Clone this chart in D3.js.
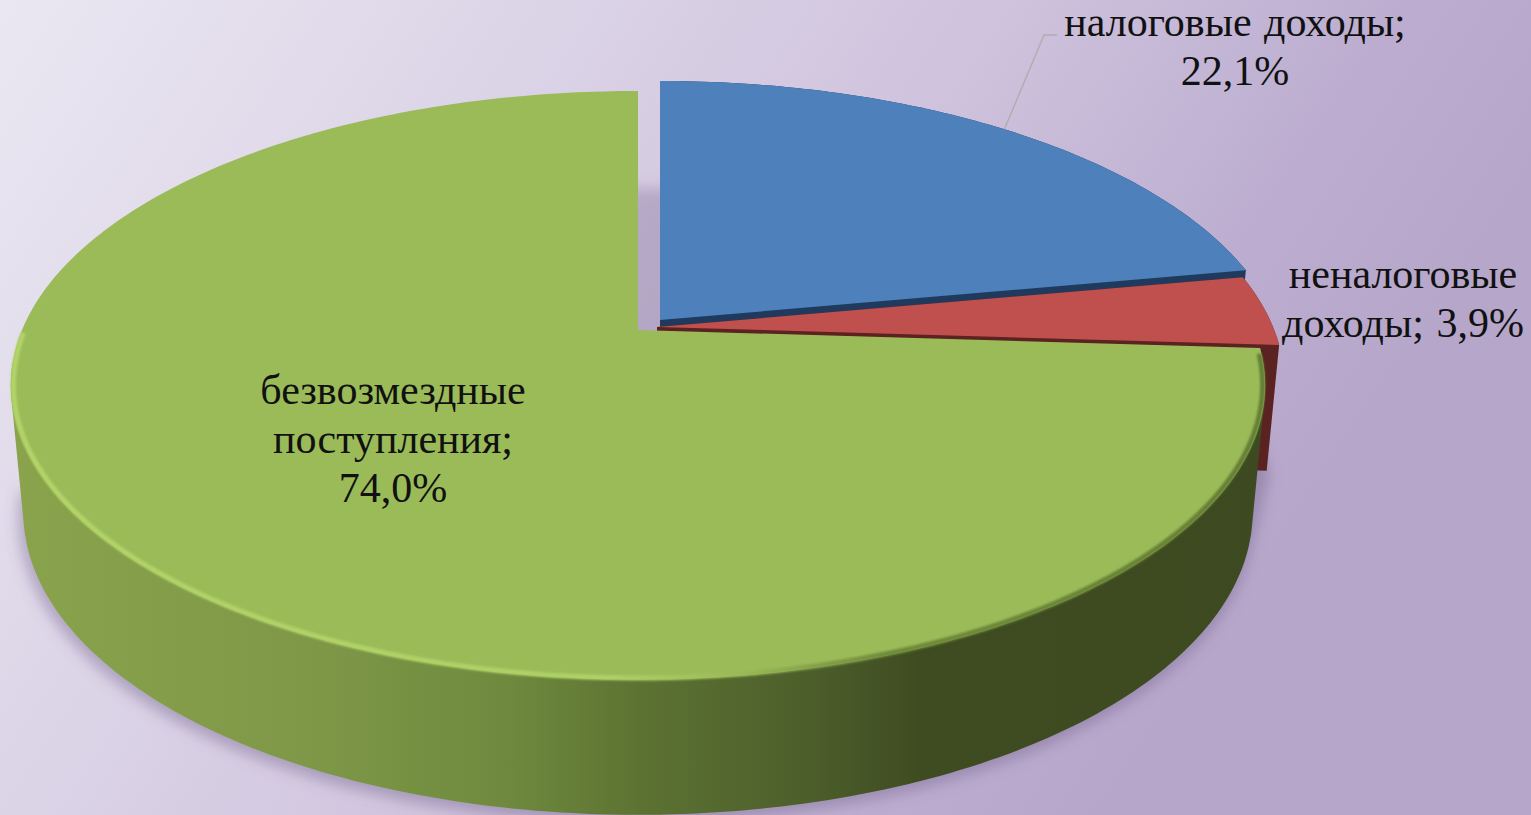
<!DOCTYPE html>
<html>
<head>
<meta charset="utf-8">
<script src="https://cdn.jsdelivr.net/npm/d3@7"></script>
<style>
  html, body { margin: 0; padding: 0; background: #fff; overflow: hidden; }
  text { font-family: "Liberation Serif", serif; fill: #111; }
</style>
</head>
<body>
<div id="chart"></div>
<script>
const categories = ["налоговые доходы", "неналоговые доходы", "безвозмездные поступления"];
const shares = [22.1, 3.9, 74.0];
const labelLines = [
  ["налоговые доходы;", "22,1%"],
  ["неналоговые", "доходы; 3,9%"],
  ["безвозмездные", "поступления;", "74,0%"]
];

(function revenue_pie() {

  const width = 1531,
    height = 815;

  // perspective of the tilted disc, fitted to the picture
  const cx = 638, cy = 330, rx = 616, ry = 284, tilt = 0.188, depth = 125;

  const topColors = ["#4e80bc", "#c0504d", "#9bbb59"];
  const sideColors = ["#1f3a5c", "#5a2220", "url(#greenSide)"];
  const shifts = [[22, -10], [19, -3], [0, 0]];

  // where each label's first baseline sits, and its line height
  const labelPos = [
    { x: 1235, y: 36, dy: 49, spacing: 2 },
    { x: 1403, y: 288, dy: 49, spacing: 2 },
    { x: 393, y: 404, dy: 49, spacing: 0 }
  ];

  const svg = d3.select("#chart")
    .append("svg")
    .attr("width", width)
    .attr("height", height)
    .attr("viewBox", [0, 0, width, height])
    .style("display", "block");

  const defs = svg.append("defs");

  const bg = defs.append("linearGradient")
    .attr("id", "bg")
    .attr("gradientUnits", "userSpaceOnUse")
    .attr("x1", 0).attr("y1", 0)
    .attr("x2", 1150).attr("y2", 770);
  [[0, "#ebe7f2"], [0.3, "#ddd6e8"], [0.6, "#cfc3dd"], [0.85, "#bcadd0"], [1, "#b6a6ca"]].forEach(s => {
    bg.append("stop").attr("offset", s[0]).attr("stop-color", s[1]);
  });

  const side = defs.append("linearGradient")
    .attr("id", "greenSide")
    .attr("gradientUnits", "userSpaceOnUse")
    .attr("x1", 0).attr("y1", 0)
    .attr("x2", width).attr("y2", 0);
  [[0, "#8aa34c"], [0.2, "#7f9848"], [0.33, "#6f8a3e"], [0.42, "#5c7232"],
   [0.53, "#4c5e2b"], [0.6, "#3f4c21"], [1, "#3c4820"]].forEach(s => {
    side.append("stop").attr("offset", s[0]).attr("stop-color", s[1]);
  });

  const rim = defs.append("linearGradient")
    .attr("id", "rim")
    .attr("gradientUnits", "userSpaceOnUse")
    .attr("x1", 0).attr("y1", 0)
    .attr("x2", width).attr("y2", 0);
  [[0, "#b2d468"], [0.4, "#aed066"], [0.48, "#9bbb59"], [0.58, "#6f8a3a"], [1, "#5d7530"]].forEach(s => {
    rim.append("stop").attr("offset", s[0]).attr("stop-color", s[1]);
  });

  defs.append("filter")
    .attr("id", "blur")
    .attr("x", "-10%").attr("y", "-10%")
    .attr("width", "120%").attr("height", "120%")
    .append("feGaussianBlur").attr("stdDeviation", 7);

  defs.append("filter")
    .attr("id", "soft")
    .attr("x", "-5%").attr("y", "-5%")
    .attr("width", "110%").attr("height", "110%")
    .append("feGaussianBlur").attr("stdDeviation", 1.2);

  svg.append("rect")
    .attr("width", width)
    .attr("height", height)
    .attr("fill", "url(#bg)");

  // disc point for an angle clockwise from 12 o'clock, z = 0 top face, z = 1 bottom face
  function project(angle, r, z, shift) {
    let X = r * Math.sin(angle),
      Y = -r * Math.cos(angle),
      d = 1 - tilt * Y,
      s = 1 - 0.02 * z;
    return [
      cx + shift[0] + rx * X / d * s,
      cy + shift[1] + ry * Y / d * s + z * depth / (1 - 0.12 * Y)
    ];
  }

  function arcPoints(a0, a1, z, shift, r = 1) {
    let n = Math.max(2, Math.ceil((a1 - a0) * 60));
    return d3.range(n + 1).map(i => project(a0 + (a1 - a0) * i / n, r, z, shift));
  }

  const line = d3.line().curve(d3.curveLinear);

  const slices = d3.pie().sort(null).value(d => d)(shares);

  const green = slices[2];
  const greenFront = green.startAngle + (green.endAngle - green.startAngle) * 0.64;

  // shadow on the backdrop: under the front of the disc, and in the gap behind the cut
  const shadow = svg.append("g")
    .attr("filter", "url(#blur)")
    .attr("fill", "#6e5e88");

  shadow.append("path")
    .attr("opacity", 0.42)
    .attr("d", line(d3.polygonHull(
      arcPoints(green.startAngle, greenFront, 1.02, [-2, 3], 1.005)
        .concat(arcPoints(slices[1].startAngle, slices[1].endAngle, 1.02, [22, -2])))) + "Z");

  shadow.append("path")
    .attr("opacity", 0.3)
    .attr("d", line(arcPoints(0, 2 * Math.PI, 0.78, [0, 0], 0.97)) + "Z");

  // bodies first, the big slice last
  slices.forEach((s, i) => {
    let shift = shifts[i],
      pts;

    if (i === 2) {
      pts = arcPoints(s.startAngle, greenFront, 0, shift)
        .concat(arcPoints(s.startAngle, greenFront, 1, shift));
    } else {
      pts = arcPoints(s.startAngle, s.endAngle, 0, shift)
        .concat(arcPoints(s.startAngle, s.endAngle, 1, shift))
        .concat([project(0, 0, 0, shift), project(0, 0, 1, shift)]);
    }

    svg.append("path")
      .attr("class", "body")
      .attr("fill", sideColors[i])
      .attr("d", line(d3.polygonHull(pts)) + "Z");
  });

  // top faces
  slices.forEach((s, i) => {
    svg.append("path")
      .attr("class", "top")
      .attr("fill", topColors[i])
      .attr("d", line([project(0, 0, 0, shifts[i])]
        .concat(arcPoints(s.startAngle, s.endAngle, 0, shifts[i]))) + "Z");
  });

  // bevelled rim of the large slice
  svg.append("path")
    .attr("fill", "none")
    .attr("stroke", "url(#rim)")
    .attr("stroke-width", 5)
    .attr("filter", "url(#soft)")
    .attr("d", line(arcPoints(green.startAngle + 0.02, green.startAngle + (green.endAngle - green.startAngle) * 0.66, 0, [0, 0], 0.996)));

  // leader line of the first label
  const leaderFrom = project((slices[0].startAngle + slices[0].endAngle) / 2, 1, 0, shifts[0]);
  svg.append("path")
    .attr("fill", "none")
    .attr("stroke", "#aeaeae")
    .attr("stroke-width", 1.5)
    .attr("d", line([leaderFrom, [1044, 35], [1057, 35]]));

  // labels
  labelLines.forEach((lines, i) => {
    let p = labelPos[i];
    svg.append("g")
      .selectAll("text")
      .data(lines)
      .join("text")
      .attr("x", p.x)
      .attr("y", (d, j) => p.y + j * p.dy)
      .attr("text-anchor", "middle")
      .attr("font-size", 42)
      .attr("word-spacing", p.spacing)
      .text(d => d);
  });

})();
</script>
</body>
</html>
